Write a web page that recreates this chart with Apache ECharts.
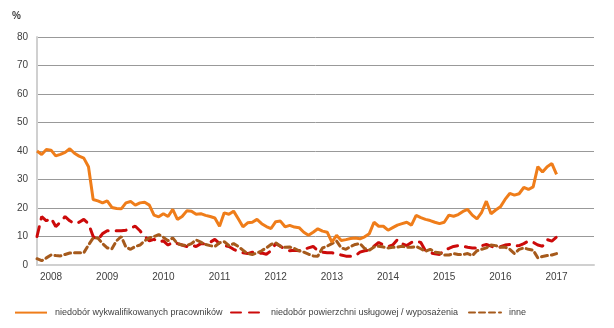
<!DOCTYPE html>
<html>
<head>
<meta charset="utf-8">
<script src="https://cdn.jsdelivr.net/npm/echarts@6/dist/echarts.min.js"></script>
<style>
  html, body { margin: 0; padding: 0; background: #ffffff; }
  #chart { width: 614px; height: 328px; }
</style>
</head>
<body>
<div id="chart"></div>
<script>
// Monthly observations, October 2007 onward; the axis spans ten years.
const startYear = 2007;
const startMonth = 10;
const monthCount = 120;

const yearTicks = ['2008', '2009', '2010', '2011', '2012', '2013', '2014', '2015', '2016', '2017'];

const seriesNames = [
  'niedobór wykwalifikowanych pracowników',
  'niedobór powierzchni usługowej / wyposażenia',
  'inne'
];

// niedobór wykwalifikowanych pracowników (%)
const skilledStaff = [
  40, 38.8, 40.5, 40.3, 38.3, 38.8, 39.5, 40.8, 39.2, 38.2, 37.5, 34.5,
  23, 22.5, 21.8, 22.5, 20.2, 19.8, 19.7, 21.8, 22.3, 21, 21.8, 22,
  21, 17.5, 16.9, 18, 17, 19.5, 16, 17, 19, 18.9, 17.8, 18,
  17.4, 17, 16.5, 13.6, 18.3, 17.8, 18.9, 16.2, 13.4, 14.8, 15, 16,
  14.5, 13.5, 12.8, 15.2, 15.4, 13.4, 13.9, 13.3, 13.1, 11.5, 10.4, 11.5,
  12.7, 11.9, 11.5, 8, 10.4, 8.6, 8.9, 9.3, 9.5, 9.2, 9.9, 11,
  15, 13.6, 13.6, 12.2, 13.1, 14, 14.5, 15, 14, 17.4, 16.6, 16,
  15.6, 15, 14.5, 15, 17.5, 17.1, 17.7, 18.8, 19.5, 17.5, 16.2, 18.5,
  22.4, 18, 19.3, 20.4, 23, 25.1, 24.5, 25, 27.2, 26.5, 27.4, 34.5,
  32.6, 34.5, 35.6, 31.8
];

// niedobór powierzchni usługowej / wyposażenia (%)
const spaceEquipment = [
  10, 17, 15.5, 16.5, 13.5, 15, 17, 15.5, 14.5, 15, 16, 14.5,
  10, 8.8, 11, 12, 12, 12, 12, 12.2, 13, 13.6, 12, 10,
  8.5, 9, 8, 8.5, 7, 8, 7.5, 7, 6.5, 7, 6.5, 7.5,
  7.5, 8, 9, 7.5, 6.8, 6.5, 5.5, 4.8, 4.3, 4, 4.5, 4,
  4.2, 3.8, 5, 7.5, 6.6, 5.5, 5, 5.2, 5, 5.5, 6, 6.5,
  5, 4.5, 4.3, 4.3, 4, 3.5, 3.1, 3.1, 3.2, 4.5, 5, 5.2,
  6.6, 7.9, 7, 6.5, 7, 8.9, 7.5, 6.8, 7.9, 8.4, 7.9, 5,
  4.3, 3.9, 3.7, 5.2, 5.8, 6.5, 6.8, 6.6, 6.2, 6, 6, 6.8,
  7.2, 6.6, 6, 6.4, 7, 7.2, 6.6, 6.8, 7.5, 8.4, 8, 7,
  6.6, 8.9, 8.4, 9.8
];

// inne (%)
const other = [
  2.2, 1.5, 2.5, 3.5, 3.3, 3.2, 3.7, 4.2, 4.3, 4.3, 4.3, 7,
  9.5, 9.5, 7.5, 6, 5.7, 8.5, 10, 6.3, 5.5, 6.5, 7, 8.5,
  9.5, 10, 10.7, 9.7, 8.5, 9.5, 7.5, 7, 6.8, 7.5, 8.8, 8,
  7.2, 6.8, 6.5, 7.8, 8.2, 6.8, 7.5, 6.5, 5.2, 4, 3.7, 4.2,
  5, 6, 7.2, 7.8, 6.6, 6.2, 6.3, 5.8, 5, 4.5, 3.8, 3.2,
  3.1, 6, 6.6, 7.5, 8.4, 6, 5.5, 6.5, 7.2, 7.5, 5.8, 5.2,
  6.3, 6.6, 6.3, 6, 6.2, 6.3, 6.6, 6.2, 6.2, 6.5, 5.7, 4.8,
  5.5, 4.5, 4.3, 3.5, 3.5, 4, 3.7, 3.7, 4, 3.3, 5, 5.5,
  6, 7, 6.8, 6.2, 6.3, 5.5, 4, 5.5, 6, 5.5, 5.2, 2.5,
  3, 3.3, 3.5, 4
];

// Month keys "YYYY-MM" for the category axis.
const categories = [];
for (let i = 0; i < monthCount; i++) {
  const m = startMonth - 1 + i;
  const y = startYear + Math.floor(m / 12);
  const mm = (m % 12) + 1;
  categories.push(y + '-' + (mm < 10 ? '0' + mm : mm));
}

const textColor = '#404040';
const font = 'Liberation Sans, Arial, sans-serif';

const colors = ['#ef7d1a', '#cc0a0a', '#a65a1c'];
const dashes = ['solid', [10, 8], [6, 4]];
const legendLeft = [14, 230, 468];

const chart = echarts.init(document.getElementById('chart'), null, { renderer: 'canvas' });

chart.setOption({
  animation: false,
  backgroundColor: '#ffffff',
  textStyle: { fontFamily: font, color: textColor },
  grid: { left: 37, right: 20, top: 37, bottom: 63, containLabel: false },
  graphic: [{
    type: 'text',
    left: 12,
    top: 11,
    style: { text: '%', fill: textColor, font: 'bold 10px ' + font }
  }],
  // one legend block per series, laid out on a single row
  legend: seriesNames.map(function (name, k) {
    return {
      top: 307,
      left: legendLeft[k],
      padding: 0,
      itemWidth: 32,
      itemHeight: 14,
      itemStyle: { opacity: 0 },
      textStyle: { fontSize: 9, color: textColor, fontFamily: font, padding: [0, 0, 0, 3] },
      data: [name]
    };
  }),
  xAxis: {
    type: 'category',
    data: categories,
    boundaryGap: false,
    axisLine: { show: true, lineStyle: { color: '#d0d0d0', width: 2 } },
    axisTick: { show: false },
    axisLabel: {
      interval: function (index, value) { return value.slice(5) === '01'; },
      formatter: function (value) {
        const y = value.slice(0, 4);
        return yearTicks.indexOf(y) >= 0 ? y : '';
      },
      color: textColor,
      fontSize: 10,
      fontFamily: font,
      margin: 7
    },
    splitLine: { show: false }
  },
  yAxis: {
    type: 'value',
    min: 0,
    max: 80,
    interval: 10,
    axisLine: { show: true, lineStyle: { color: '#d0d0d0', width: 2 } },
    axisTick: { show: false },
    axisLabel: { color: textColor, fontSize: 10, fontFamily: font, margin: 9 },
    splitLine: { show: true, lineStyle: { color: '#999999', width: 1 } }
  },
  series: [skilledStaff, spaceEquipment, other].map(function (values, k) {
    return {
      name: seriesNames[k],
      type: 'line',
      data: values,
      showSymbol: false,
      symbol: 'none',
      lineStyle: { color: colors[k], width: 3, type: dashes[k], cap: k === 0 ? 'butt' : 'round' },
      itemStyle: { color: colors[k] },
      z: k === 0 ? 3 : 2
    };
  })
});
</script>
</body>
</html>
